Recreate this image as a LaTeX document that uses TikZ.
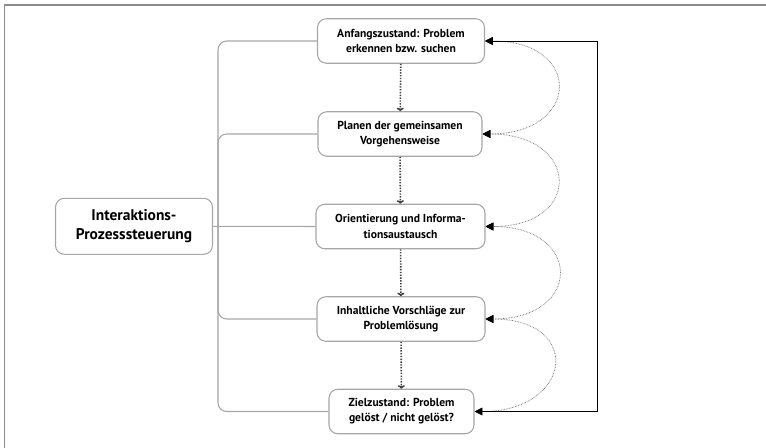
\documentclass[tikz,border=0pt]{standalone}
\usepackage{fontspec}
\setmainfont{PT Sans}
\usetikzlibrary{arrows.meta,positioning}

\begin{document}
\begin{tikzpicture}[x=0.02cm,y=-0.02cm,
                    phase/.style={draw=gray!70,rounded corners=5pt,align=center,
                      minimum height=0.89cm,inner sep=2pt,
                      font=\bfseries\fontsize{6.6}{8.6}\selectfont},
                    branch/.style={draw=gray!70,rounded corners=5pt},
                    next/.style={dash pattern=on 0.8pt off 0.8pt,line width=0.9pt,black!75,
                      -{To[length=2pt,width=4pt]}},
                    back/.style={dash pattern=on 0.4pt off 0.5pt,line width=0.45pt,gray,
                      {Triangle[length=4.5pt,width=4.5pt,black]}-{Triangle[length=4.5pt,width=4.5pt,black]}},
                    semithick]

 \useasboundingbox (0,0) rectangle (766,448);
 \draw[gray!90,line width=1.1pt] (4.5,448) -- (4.5,5) -- (766,5);

 \node[phase,minimum width=3.34cm] (A) at (401,41)  {Anfangszustand: Problem\\erkennen bzw. suchen};
 \node[phase,minimum width=3.28cm] (B) at (400,134) {Planen der gemeinsamen\\Vorgehensweise};
 \node[phase,minimum width=3.38cm] (O) at (400.5,226.5) {Orientierung und Informa-\\tionsaustausch};
 \node[phase,minimum width=3.36cm] (I) at (401,319) {Inhaltliche Vorschläge zur\\Problemlösung};
 \node[phase,minimum width=2.9cm]  (Z) at (401.5,411.5) {Zielzustand: Problem\\gelöst / nicht gelöst?};
 \node[phase,minimum width=3.14cm,minimum height=1.12cm,
       font=\bfseries\fontsize{8.8}{10.5}\selectfont] (P) at (134,226.3) {Interaktions-\\Prozesssteuerung};

 \coordinate (bus) at (218,226.5);
 \coordinate (ret) at (597,226.5);

 % steering lines on the left
 \draw[branch] (A.west) -| (bus) |- (Z.west);
 \draw[branch] (B.west) -| (bus);
 \draw[branch] (I.west) -| (bus);
 \draw[branch] (P.east) -- (O.west);

 % phase sequence
 \draw[next] (A) -- (B);
 \draw[next] (B) -- (O);
 \draw[next] (O) -- (I);
 \draw[next] (I) -- (Z);

 % going back
 \draw[back] (A.east) to[out=0,in=0,looseness=2.7] (B.east);
 \draw[back] (B.east) to[out=0,in=0,looseness=2.7] (O.east);
 \draw[back] (O.east) to[out=0,in=0,looseness=2.7] (I.east);
 \draw[back] (I.east) to[out=0,in=0,looseness=2.7] (Z.east);
 \draw[-{Triangle[length=4.5pt,width=4.5pt]},thin] (Z.east) -| (ret) |- (A.east);

\end{tikzpicture}
\end{document}
